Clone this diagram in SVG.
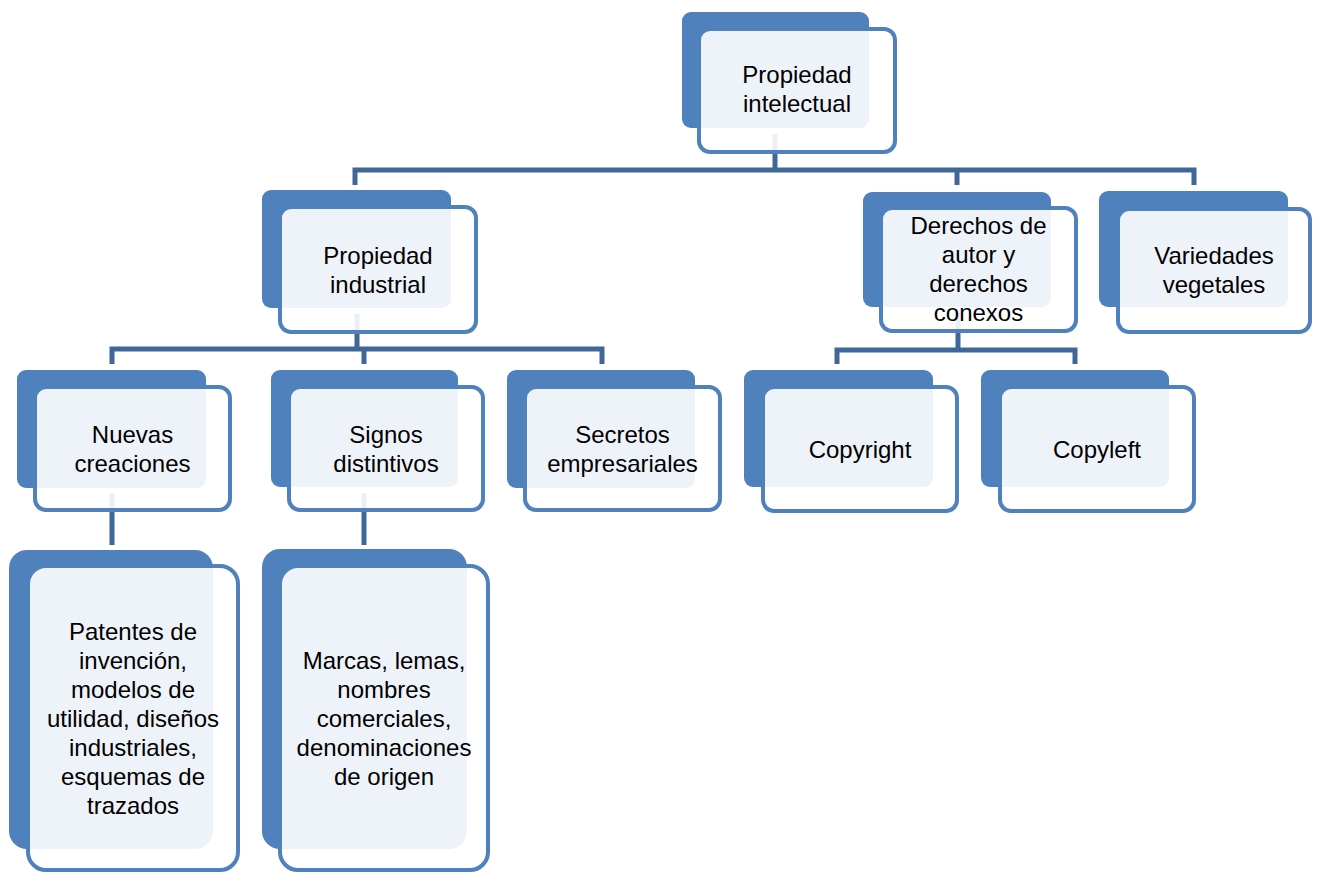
<svg xmlns="http://www.w3.org/2000/svg" width="1318" height="873" viewBox="0 0 1318 873">
<style>
.bg{fill:#4F81BD}
.fr{fill:#FFFFFF;fill-opacity:0.9;stroke:#4F81BD;stroke-width:4}
.cn{fill:none;stroke:#3F6899;stroke-width:5}
text{font-family:"Liberation Sans",Arial,sans-serif;font-size:24px;fill:#000;text-anchor:middle}
</style>
<rect width="1318" height="873" fill="#FFFFFF"/>
<g id="connectors">
<path class="cn" d="M775,134 V170 M355,185 V170 H1194 V185 M957,170 V185"/>
<path class="cn" d="M357,314 V349 M112,364 V349 H602 V364 M364,349 V364"/>
<path class="cn" d="M958,313 V350 M837,364 V350 H1075 V364"/>
<path class="cn" d="M112,493 V545"/>
<path class="cn" d="M364,493 V545"/>
</g>
<g id="n-root">
<rect class="bg" x="682" y="12" width="187" height="116" rx="9"/>
<rect class="fr" x="699" y="29" width="196" height="123" rx="11"/>
<text x="797" y="83">Propiedad</text>
<text x="797" y="112">intelectual</text>
</g>
<g id="n-industrial">
<rect class="bg" x="262" y="190" width="189" height="118" rx="9"/>
<rect class="fr" x="280" y="207" width="196" height="125" rx="11"/>
<text x="378" y="263.5">Propiedad</text>
<text x="378" y="292.5">industrial</text>
</g>
<g id="n-autor">
<rect class="bg" x="863" y="192" width="188" height="115" rx="9"/>
<rect class="fr" x="881" y="208" width="195" height="123" rx="11"/>
<text x="978.5" y="233.5">Derechos de</text>
<text x="978.5" y="262.5">autor y</text>
<text x="978.5" y="291.5">derechos</text>
<text x="978.5" y="320.5">conexos</text>
</g>
<g id="n-vegetales">
<rect class="bg" x="1099" y="191" width="189" height="116" rx="9"/>
<rect class="fr" x="1118" y="209" width="192" height="123" rx="11"/>
<text x="1214" y="263.5">Variedades</text>
<text x="1214" y="292.5">vegetales</text>
</g>
<g id="n-nuevas">
<rect class="bg" x="17" y="370" width="189" height="118" rx="9"/>
<rect class="fr" x="35" y="387" width="195" height="123" rx="11"/>
<text x="132.5" y="443">Nuevas</text>
<text x="132.5" y="472">creaciones</text>
</g>
<g id="n-signos">
<rect class="bg" x="271" y="370" width="187" height="117" rx="9"/>
<rect class="fr" x="289" y="387" width="194" height="123" rx="11"/>
<text x="386" y="443">Signos</text>
<text x="386" y="472">distintivos</text>
</g>
<g id="n-secretos">
<rect class="bg" x="507" y="370" width="188" height="118" rx="9"/>
<rect class="fr" x="525" y="387" width="195" height="123" rx="11"/>
<text x="622.5" y="443">Secretos</text>
<text x="622.5" y="472">empresariales</text>
</g>
<g id="n-copyright">
<rect class="bg" x="744" y="370" width="189" height="117" rx="9"/>
<rect class="fr" x="763" y="387" width="194" height="124" rx="11"/>
<text x="860" y="457.5">Copyright</text>
</g>
<g id="n-copyleft">
<rect class="bg" x="981" y="370" width="188" height="117" rx="9"/>
<rect class="fr" x="1000" y="387" width="194" height="124" rx="11"/>
<text x="1097" y="457.5">Copyleft</text>
</g>
<g id="n-patentes">
<rect class="bg" x="9" y="550" width="204" height="299" rx="18"/>
<rect class="fr" x="28" y="566" width="210" height="304" rx="18"/>
<text x="133" y="639.5">Patentes de</text>
<text x="133" y="668.5">invención,</text>
<text x="133" y="697.5">modelos de</text>
<text x="133" y="726.5">utilidad, diseños</text>
<text x="133" y="755.5">industriales,</text>
<text x="133" y="784.5">esquemas de</text>
<text x="133" y="813.5">trazados</text>
</g>
<g id="n-marcas">
<rect class="bg" x="262" y="549" width="205" height="300" rx="18"/>
<rect class="fr" x="280" y="566" width="208" height="304" rx="18"/>
<text x="384" y="669">Marcas, lemas,</text>
<text x="384" y="698">nombres</text>
<text x="384" y="727">comerciales,</text>
<text x="384" y="756">denominaciones</text>
<text x="384" y="785">de origen</text>
</g>
</svg>
